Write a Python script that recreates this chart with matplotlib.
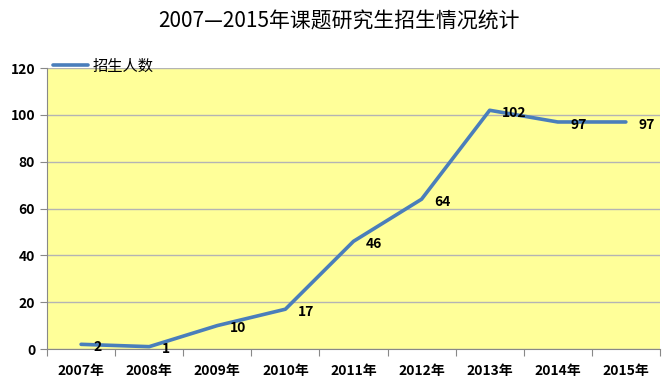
import matplotlib.pyplot as plt

plt.rcParams['font.family'] = ['Noto Sans CJK SC', 'DejaVu Sans']

years = ['2007年', '2008年', '2009年', '2010年', '2011年', '2012年', '2013年', '2014年', '2015年']
counts = [2, 1, 10, 17, 46, 64, 102, 97, 97]

fig = plt.figure(figsize=(6.72, 3.85), dpi=100)
ax = fig.add_axes([0.070, 0.0935, 0.912, 0.7295])
ax.set_facecolor('#FFFF99')

x = list(range(len(years)))
ax.plot(x, counts, color='#4A7EBB', lw=2.6, label='招生人数', solid_capstyle='round')

for xi, v in zip(x, counts):
    ax.annotate(str(v), (xi, v), xytext=(9, -2), textcoords='offset points',
                ha='left', va='center', fontsize=10, fontweight='bold')

ax.set_xlim(-0.5, len(years) - 0.5)
ax.set_ylim(0, 120)
ax.set_yticks(range(0, 121, 20))
ax.grid(axis='y', color='#B4B4B4', lw=1)
ax.set_axisbelow(True)

ax.set_xticks([i + 0.5 for i in range(-1, len(years))], minor=False)
ax.set_xticklabels([])
ax.set_xticks(x, minor=True)
ax.set_xticklabels(years, minor=True, fontsize=10, fontweight='bold')
ax.tick_params(axis='x', which='major', length=5, color='#888888')
ax.tick_params(axis='x', which='minor', length=0, pad=11)
ax.tick_params(axis='y', length=5, color='#888888', labelsize=10)
for lab in ax.get_yticklabels():
    lab.set_fontweight('bold')

for s in ['top', 'right']:
    ax.spines[s].set_visible(False)
for s in ['left', 'bottom']:
    ax.spines[s].set_color('#888888')

ax.legend(loc='lower left', bbox_to_anchor=(0.0, 0.955), frameon=False,
          fontsize=11, handlelength=2.3, handletextpad=0.3, borderaxespad=0)

fig.text(0.505, 0.945, '2007—2015年课题研究生招生情况统计', ha='center', va='center', fontsize=15)

fig.savefig('out.png')
